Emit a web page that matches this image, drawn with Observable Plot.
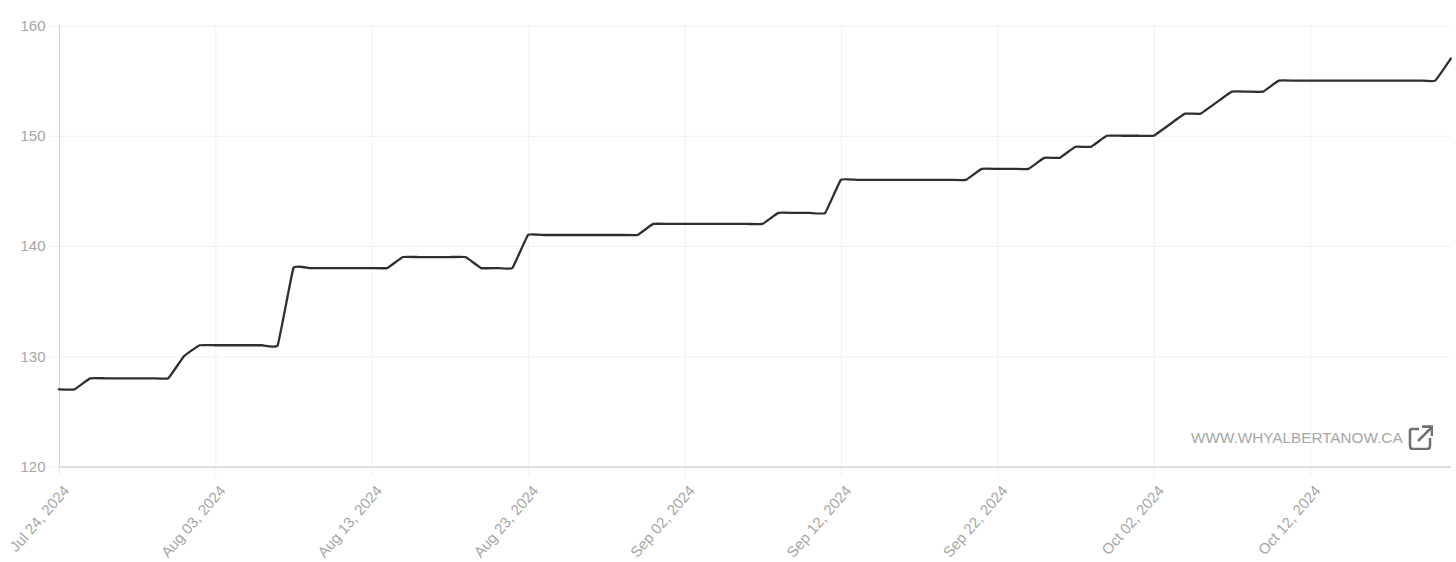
<!DOCTYPE html>
<html>
<head>
<meta charset="utf-8">
<script src="https://cdn.jsdelivr.net/npm/d3@7"></script>
<script src="https://cdn.jsdelivr.net/npm/@observablehq/plot@0.6"></script>
<style>
html,body{margin:0;padding:0;background:#fff;}
#wrap{position:relative;width:1456px;height:562px;overflow:hidden;}
#mark{position:absolute;left:1191px;top:424px;height:28px;display:flex;align-items:center;font:15.3px "Liberation Sans",sans-serif;color:#a6a6a6;white-space:nowrap;}
#mark svg{margin-left:5px;margin-top:-1px;}
</style>
</head>
<body>
<div id="wrap"></div>
<script>
const startDate = "2024-07-24";
const values = [127,127,128,128,128,128,128,128,130,131,131,131,131,131,131,138,138,138,138,138,138,138,139,139,139,139,139,138,138,138,141,141,141,141,141,141,141,141,142,142,142,142,142,142,142,142,143,143,143,143,146,146,146,146,146,146,146,146,146,147,147,147,147,148,148,149,149,150,150,150,150,151,152,152,153,154,154,154,155,155,155,155,155,155,155,155,155,155,155,157];
const tickDates = ["2024-07-24","2024-08-03","2024-08-13","2024-08-23","2024-09-02","2024-09-12","2024-09-22","2024-10-02","2024-10-12"];
const yTicks = [120,130,140,150,160];
const watermark = "WWW.WHYALBERTANOW.CA";

const start = new Date(startDate + "T00:00:00Z");
const series = values.map((v, i) => ({date: new Date(+start + i * 864e5), v}));
const xTicks = tickDates.map(d => new Date(d + "T00:00:00Z"));
const fmt = d3.utcFormat("%b %d, %Y");

const chart = Plot.plot({
  width: 1456, height: 562,
  marginLeft: 59, marginRight: 5, marginTop: 25.5, marginBottom: 95.5,
  style: {fontFamily: '"Liberation Sans", sans-serif', background: "#fff"},
  x: {type: "utc", domain: [series[0].date, series[series.length - 1].date]},
  y: {domain: [120, 160]},
  marks: [
    Plot.ruleY(yTicks.filter(t => t > 120), {stroke: "#f0f0f0", strokeWidth: 1, strokeOpacity: 1}),
    Plot.ruleX(xTicks.slice(1), {stroke: "#f0f0f0", strokeWidth: 1, y1: 120, y2: 160}),
    Plot.ruleX([start], {stroke: "#cfcfcf", strokeWidth: 1}),
    Plot.axisY({ticks: yTicks, tickSize: 10, stroke: "#f0f0f0", tickPadding: 4, fontSize: 15, color: "#a6a6a6", tickFormat: d => d, label: null}),
    Plot.axisX({ticks: xTicks, tickSize: 10, stroke: "#f0f0f0", tickPadding: 5, fontSize: 15, color: "#a6a6a6", tickFormat: fmt, tickRotate: -49, label: null, textStroke: "none"}),
    Plot.ruleY([120], {stroke: "#dedede", strokeWidth: 2}),
    Plot.line(series, {x: "date", y: "v", stroke: "#2f2f2f", strokeWidth: 2.3, curve: "cardinal", tension: 0.75, dx: -0.7, dy: -0.5})
  ]
});
const wrap = document.getElementById("wrap");
wrap.appendChild(chart);
// nudge rotated tick labels to the reference's position
chart.querySelectorAll('[aria-label="x-axis tick label"] text').forEach(t => {
  const tr = t.getAttribute("transform");
  t.setAttribute("transform", "translate(7,6) " + tr);
});
const mark = document.createElement("div");
mark.id = "mark";
mark.innerHTML = watermark + '<svg width="25" height="25" viewBox="0 0 25 25" fill="none" stroke="#707070" stroke-width="2.6"><path d="M11 4 H4 Q2 4 2 6 V21 Q2 24 5 24 H19 Q22 24 22 21 V13"/><path d="M10 16 L23 3 M14 1.6 H24 V11"/></svg>';
wrap.appendChild(mark);
</script>
</body>
</html>
